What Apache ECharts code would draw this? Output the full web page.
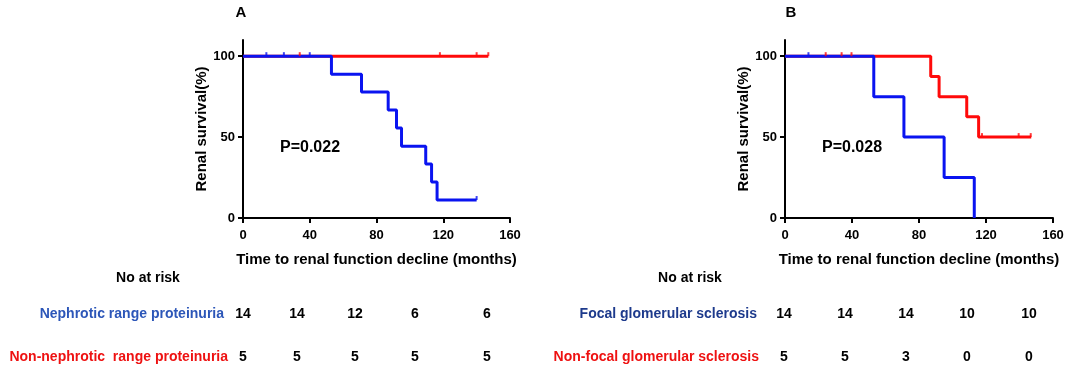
<!DOCTYPE html>
<html><head><meta charset="utf-8">
<script src="https://cdn.jsdelivr.net/npm/echarts@6/dist/echarts.min.js"></script>
<style>html,body{margin:0;padding:0;background:#fff}#c{width:1084px;height:376px}</style>
</head><body><div id="c"></div>
<script>
// ---- data ----
const xTicks = [0, 40, 80, 120, 160];
const yTicks = [0, 50, 100];
// Panel A
const aBlueTimes = [0, 53, 71, 87, 92, 95, 109.5, 113, 116.3, 140];
const aBlueSurv  = [100, 88.9, 77.8, 66.7, 55.6, 44.4, 33.3, 22.2, 11.1, 11.1];
const aRedTimes  = [0, 147];
const aRedSurv   = [100, 100];
const aBlueCensT = [14, 24.5, 40, 140];
const aBlueCensS = [100, 100, 100, 11.1];
const aRedCensT  = [34, 118, 140, 147];
const aRedCensS  = [100, 100, 100, 100];
// Panel B
const bBlueTimes = [0, 53, 71, 95, 113];
const bBlueSurv  = [100, 75, 50, 25, 0];
const bRedTimes  = [0, 87, 92, 108.5, 115.6, 147];
const bRedSurv   = [100, 87.5, 75, 62.5, 50, 50];
const bBlueCensT = [14];
const bBlueCensS = [100];
const bRedCensT  = [24.3, 33.8, 39.7, 117.6, 139.5, 146.7];
const bRedCensS  = [100, 100, 100, 50, 50, 50];
// Risk tables
const riskTitle = 'No at risk';
const aRowLabels = ['Nephrotic range proteinuria', 'Non-nephrotic  range proteinuria'];
const aRowValues = [[14, 14, 12, 6, 6], [5, 5, 5, 5, 5]];
const bRowLabels = ['Focal glomerular sclerosis', 'Non-focal glomerular sclerosis'];
const bRowValues = [[14, 14, 14, 10, 10], [5, 5, 3, 0, 0]];
const pA = 'P=0.022', pB = 'P=0.028';
const yName = 'Renal survival(%)';
const xName = 'Time to renal function decline (months)';

// ---- style / layout ----
const FONT = '"Liberation Sans", Arial, Helvetica, sans-serif';
const RED = '#ff0a0a', BLUE = '#0a14f0';
const colsA = [243, 297, 355, 415, 487];
const colsB = [784, 845, 906, 967, 1029];
const rowsY = [314, 357];
const labelColorsA = ['#2c56b8', '#ee1111'];
const labelColorsB = ['#1d3a8c', '#ee1111'];

const zip = (a, b) => a.map((v, i) => [v, b[i]]);

function xAxis(idx) {
  return {
    gridIndex: idx, type: 'value', min: 0, max: 160, interval: 40,
    axisLine: {show: true, lineStyle: {color: '#000', width: 2}},
    axisTick: {show: true, length: 5, lineStyle: {color: '#000', width: 2}},
    axisLabel: {color: '#000', fontWeight: 'bold', fontSize: 13, fontFamily: FONT, margin: 11},
    splitLine: {show: false},
    name: xName, nameLocation: 'middle', nameGap: 34,
    nameTextStyle: {color: '#000', fontWeight: 'bold', fontSize: 15, fontFamily: FONT}
  };
}
function yAxis(idx) {
  return {
    gridIndex: idx, type: 'value', min: 0, max: 110,
    axisLine: {show: true, lineStyle: {color: '#000', width: 2}},
    axisTick: {show: true, length: 5, lineStyle: {color: '#000', width: 2}, customValues: yTicks},
    axisLabel: {color: '#000', fontWeight: 'bold', fontSize: 13, fontFamily: FONT, margin: 8, customValues: yTicks},
    splitLine: {show: false},
    name: yName, nameLocation: 'middle', nameGap: 34, nameRotate: 90,
    nameTextStyle: {color: '#000', fontWeight: 'bold', fontSize: 15, fontFamily: FONT}
  };
}
function line(idx, times, surv, color, z) {
  return {type: 'line', xAxisIndex: idx, yAxisIndex: idx, step: 'end', data: zip(times, surv),
    showSymbol: false, symbol: 'none', lineStyle: {color, width: 3}, z, silent: true};
}
function cens(idx, times, surv, color) {
  return {type: 'scatter', xAxisIndex: idx, yAxisIndex: idx, data: zip(times, surv),
    symbol: 'rect', symbolSize: [2, 4], symbolOffset: [0, -2], itemStyle: {color}, z: 5, silent: true};
}
function txt(text, x, y, align, font, fill) {
  return {type: 'text', x: 0, y: 0, silent: true,
    style: {text, x, y, align, verticalAlign: 'middle', textAlign: align, textVerticalAlign: 'middle', font, fill}};
}

const graphics = [];
graphics.push(txt('A', 241, 13, 'center', 'bold 15px ' + FONT, '#000'));
graphics.push(txt('B', 791, 13, 'center', 'bold 15px ' + FONT, '#000'));
graphics.push(txt(pA, 310, 148, 'center', 'bold 16px ' + FONT, '#000'));
graphics.push(txt(pB, 852, 148, 'center', 'bold 16px ' + FONT, '#000'));
graphics.push(txt(riskTitle, 148, 278, 'center', 'bold 14px ' + FONT, '#000'));
graphics.push(txt(riskTitle, 690, 278, 'center', 'bold 14px ' + FONT, '#000'));
const labRightA = [224, 228], labRightB = [757, 759];
aRowLabels.forEach((l, r) => {
  graphics.push(txt(l, labRightA[r], rowsY[r], 'right', 'bold 14px ' + FONT, labelColorsA[r]));
  aRowValues[r].forEach((v, c) => graphics.push(txt(String(v), colsA[c], rowsY[r], 'center', 'bold 14px ' + FONT, '#000')));
});
bRowLabels.forEach((l, r) => {
  graphics.push(txt(l, labRightB[r], rowsY[r], 'right', 'bold 14px ' + FONT, labelColorsB[r]));
  bRowValues[r].forEach((v, c) => graphics.push(txt(String(v), colsB[c], rowsY[r], 'center', 'bold 14px ' + FONT, '#000')));
});

const chart = echarts.init(document.getElementById('c'), null, {renderer: 'canvas'});
chart.setOption({
  animation: false,
  backgroundColor: '#fff',
  grid: [
    {left: 243, width: 267, top: 40, height: 178},
    {left: 785, width: 268, top: 40, height: 178}
  ],
  xAxis: [xAxis(0), xAxis(1)],
  yAxis: [yAxis(0), yAxis(1)],
  series: [
    line(0, aRedTimes, aRedSurv, RED, 2),
    line(0, aBlueTimes, aBlueSurv, BLUE, 3),
    cens(0, aRedCensT, aRedCensS, RED),
    cens(0, aBlueCensT, aBlueCensS, BLUE),
    line(1, bRedTimes, bRedSurv, RED, 2),
    line(1, bBlueTimes, bBlueSurv, BLUE, 3),
    cens(1, bRedCensT, bRedCensS, RED),
    cens(1, bBlueCensT, bBlueCensS, BLUE)
  ],
  graphic: graphics
});
</script>
</body></html>
